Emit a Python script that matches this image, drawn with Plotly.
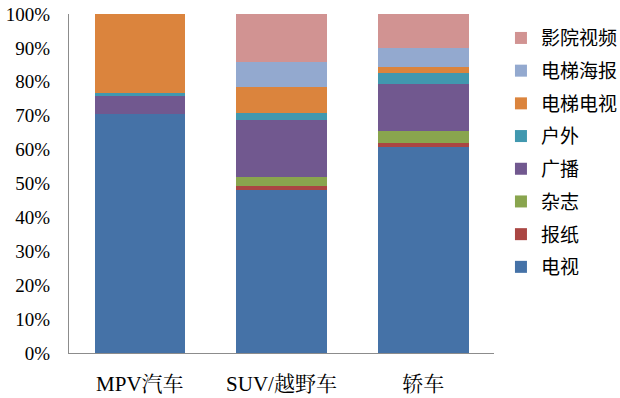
import plotly.graph_objects as go

categories = ["MPV汽车", "SUV/越野车", "轿车"]
series_names = ["电视", "报纸", "杂志", "广播", "户外", "电梯电视", "电梯海报", "影院视频"]
tv = [70.5, 48.1, 60.7]
newspaper = [0.0, 1.3, 1.3]
magazine = [0.0, 2.6, 3.6]
radio = [5.2, 16.7, 13.8]
outdoor = [1.1, 2.2, 3.3]
elevator_tv = [23.2, 7.5, 1.8]
elevator_poster = [0.0, 7.5, 5.6]
cinema = [0.0, 14.1, 9.9]
colors = ["#4572A7", "#AA4643", "#89A54E", "#71588F", "#4198AF", "#DB843D", "#93A9CF", "#D19392"]

values = [tv, newspaper, magazine, radio, outdoor, elevator_tv, elevator_poster, cinema]

fig = go.Figure()
for i, (name, vals, col) in enumerate(zip(series_names, values, colors)):
    fig.add_trace(go.Bar(
        x=categories, y=[v / 100 for v in vals], name=name,
        legendgroup=name, legendrank=100 - i,
        marker=dict(color=col, line=dict(width=0)),
    ))

serif = "Liberation Serif, Times New Roman, Noto Serif CJK SC, Noto Sans CJK SC, serif"
fig.update_layout(
    barmode="stack",
    width=620, height=398,
    margin=dict(l=69, r=126, t=14, b=45),
    plot_bgcolor="white", paper_bgcolor="white",
    bargap=0.36,
    font=dict(family=serif, size=19, color="black"),
    legend=dict(
        traceorder="grouped",
        tracegroupgap=5,
        xref="container", yref="container",
        x=0.808, xanchor="left", y=0.952, yanchor="top",
        maxheight=390,
        font=dict(family="Noto Sans CJK SC, sans-serif", size=19, color="black"),
        itemwidth=30,
        bgcolor="rgba(0,0,0,0)",
    ),
    xaxis=dict(
        showline=True, linecolor="#8c8c8c", linewidth=1,
        ticks="", showgrid=False, automargin=False,
        tickfont=dict(family=serif, size=21),
        ticklabelstandoff=12,
    ),
    yaxis=dict(
        range=[0, 1], dtick=0.1, tickformat=".0%",
        showline=True, linecolor="#8c8c8c", linewidth=1,
        ticks="", showgrid=False, zeroline=False, automargin=False,
        tickfont=dict(family=serif, size=19),
        ticklabelstandoff=14,
    ),
)

fig.write_html("out.html", config={"displayModeBar": False},
               post_script="document.body.style.margin='0';")
